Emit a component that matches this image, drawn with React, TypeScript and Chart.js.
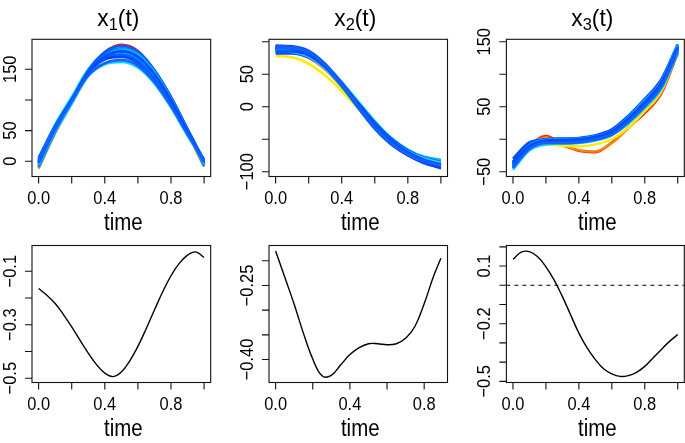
import React, { useEffect, useRef } from "react";
import { Chart, registerables } from "chart.js";
Chart.register(...registerables);

const W = 685;
const H = 443;

// ---------- data ----------
const timeGrid = [0, 0.1, 0.2, 0.3, 0.4, 0.5, 0.6, 0.7, 0.8, 0.9, 1.0];

const curveColors = [
  "#ff1a00", "#ff8000", "#ffee00", "#00e5ff", "#00b2ff", "#0050ff", "#0066ff",
  "#0048ff", "#0040ff", "#00c8ff", "#0033ee", "#00d0ff", "#0047ff", "#33ccff",
  "#0044ff", "#005cff", "#00a8ff", "#0064ff", "#004cff", "#1a5eff",
];

const x1Curves = [
  [-8, 50, 98, 146, 178, 190, 180, 147, 100, 48, -6],
  [-12, 46, 94, 141, 171, 182, 173, 141, 96, 45, -9],
  [-5, 50, 95, 140, 166, 176, 168, 138, 95, 46, -3],
  [4, 60, 105, 150, 176, 184, 174, 144, 102, 52, 2],
  [-2, 54, 100, 146, 172, 180, 171, 141, 99, 49, -1],
  [6, 58, 101, 144, 166, 170, 160, 132, 92, 45, 3],
  [0, 56, 101, 147, 174, 182, 174, 146, 104, 53, 1],
  [-6, 50, 96, 142, 169, 178, 170, 143, 101, 50, -5],
  [3, 57, 100, 143, 167, 172, 164, 136, 95, 47, 2],
  [-10, 47, 94, 141, 169, 180, 172, 144, 101, 49, -8],
  [-3, 53, 98, 143, 168, 175, 166, 139, 97, 47, -2],
  [1, 54, 97, 139, 158, 162, 153, 127, 88, 42, 0],
  [-4, 52, 99, 146, 174, 184, 176, 148, 105, 52, -3],
  [2, 56, 99, 144, 170, 177, 168, 140, 98, 48, 1],
  [-1, 55, 100, 145, 172, 180, 171, 143, 100, 49, 0],
  [-9, 50, 99, 148, 178, 188, 179, 149, 104, 51, -7],
  [-7, 49, 97, 144, 172, 183, 175, 146, 102, 50, -6],
  [2, 56, 101, 145, 170, 174, 164, 135, 94, 46, 1],
  [-2, 53, 99, 144, 171, 179, 170, 142, 100, 49, -1],
  [0, 54, 98, 140, 160, 165, 156, 129, 90, 44, 0],
];

const x2Curves = [
  [88, 87, 80, 62, 33, 0, -32, -56, -72, -82, -88],
  [84, 83, 75, 57, 30, -2, -33, -57, -73, -83, -89],
  [78, 76, 66, 48, 24, -3, -30, -52, -68, -78, -84],
  [90, 89, 82, 64, 38, 8, -22, -48, -66, -78, -84],
  [86, 86, 79, 61, 34, 4, -26, -50, -67, -77, -82],
  [82, 82, 76, 60, 35, 6, -24, -49, -67, -79, -85],
  [92, 91, 84, 65, 36, 3, -30, -55, -72, -84, -91],
  [88, 88, 81, 62, 33, 0, -31, -55, -71, -82, -88],
  [94, 93, 86, 66, 37, 4, -28, -54, -73, -86, -95],
  [85, 84, 77, 59, 32, 1, -29, -53, -69, -80, -86],
  [90, 90, 83, 63, 34, 1, -31, -56, -74, -86, -93],
  [87, 86, 78, 59, 31, -1, -32, -57, -74, -85, -91],
  [91, 90, 82, 62, 33, -1, -33, -58, -75, -87, -94],
  [86, 85, 78, 60, 33, 2, -28, -52, -69, -80, -86],
  [89, 88, 81, 62, 34, 2, -30, -55, -72, -83, -89],
  [93, 92, 85, 65, 35, 1, -32, -57, -74, -85, -90],
  [87, 87, 80, 62, 35, 3, -28, -53, -70, -82, -88],
  [90, 89, 81, 61, 32, -2, -34, -58, -74, -84, -89],
  [85, 85, 79, 61, 35, 4, -27, -52, -70, -82, -89],
  [91, 91, 84, 64, 35, 2, -31, -56, -73, -84, -90],
];

const x3Curves = [
  [-40, -10, 5, -8, -18, -20, -5, 18, 40, 70, 132],
  [-44, -12, 3, -10, -17, -19, -6, 17, 42, 72, 134],
  [-42, -16, -8, -10, -11, -8, 0, 18, 44, 74, 136],
  [-35, -6, 0, 0, 1, 5, 14, 35, 60, 88, 140],
  [-38, -10, -2, -2, -1, 3, 11, 30, 56, 84, 138],
  [-30, -5, -1, -3, -3, 2, 12, 33, 58, 86, 137],
  [-40, -12, -4, -3, -2, 2, 10, 30, 55, 84, 142],
  [-45, -15, -6, -5, -4, 0, 8, 27, 52, 82, 140],
  [-36, -8, 0, 1, 2, 6, 15, 36, 62, 92, 146],
  [-42, -14, -6, -6, -5, -1, 7, 26, 50, 80, 136],
  [-38, -11, -3, -2, 0, 4, 13, 33, 58, 88, 144],
  [-47, -17, -8, -7, -6, -2, 6, 24, 48, 77, 132],
  [-34, -9, -2, -1, 1, 5, 14, 34, 59, 89, 143],
  [-40, -12, -4, -4, -3, 1, 10, 29, 54, 83, 139],
  [-39, -11, -3, -3, -1, 3, 12, 31, 57, 86, 141],
  [-43, -14, -5, -4, -3, 1, 9, 28, 53, 82, 139],
  [-37, -9, -1, 0, 1, 5, 13, 34, 60, 89, 145],
  [-41, -13, -5, -5, -4, 0, 8, 27, 51, 80, 135],
  [-36, -10, -2, -1, 0, 4, 12, 32, 57, 87, 142],
  [-44, -15, -6, -6, -5, -1, 7, 26, 51, 81, 138],
];

const beta1T = [0, 0.05, 0.1, 0.15, 0.2, 0.25, 0.3, 0.35, 0.4, 0.45, 0.5, 0.55, 0.6, 0.65, 0.7, 0.75, 0.8, 0.85, 0.9, 0.95, 1.0];
const beta1V = [-0.165, -0.19, -0.221, -0.262, -0.308, -0.358, -0.406, -0.449, -0.481, -0.494, -0.477, -0.436, -0.381, -0.315, -0.245, -0.177, -0.117, -0.071, -0.04, -0.028, -0.049];

const beta2T = [0, 0.05, 0.1, 0.15, 0.2, 0.25, 0.3, 0.35, 0.4, 0.45, 0.5, 0.55, 0.6, 0.65, 0.7, 0.75, 0.8, 0.85, 0.89];
const beta2V = [-0.18, -0.234, -0.288, -0.347, -0.399, -0.433, -0.432, -0.411, -0.39, -0.376, -0.368, -0.368, -0.37, -0.368, -0.357, -0.333, -0.287, -0.232, -0.195];

const beta3T = [0, 0.05, 0.1, 0.15, 0.2, 0.25, 0.3, 0.35, 0.4, 0.45, 0.5, 0.55, 0.6, 0.65, 0.7, 0.75, 0.8, 0.85, 0.9, 0.95, 1.0];
const beta3V = [0.135, 0.172, 0.175, 0.148, 0.096, 0.027, -0.059, -0.154, -0.249, -0.326, -0.387, -0.434, -0.461, -0.474, -0.47, -0.453, -0.422, -0.378, -0.335, -0.292, -0.257];

const zeroLine = [0, 0];

const xTicksFull = [0, 0.2, 0.4, 0.6, 0.8, 1.0];
const xTicksShort = [0, 0.2, 0.4, 0.6, 0.8];
const xLabelVals = [0, 0.4, 0.8];
const xLabelTexts = ["0.0", "0.4", "0.8"];

const y1Ticks = [0, 50, 100, 150];
const y1LabVals = [0, 50, 150];
const y1LabTxt = ["0", "50", "150"];
const y2Ticks = [-100, -50, 0, 50, 100];
const y2LabVals = [-100, 0, 50];
const y2LabTxt = ["\u2212100", "0", "50"];
const y3Ticks = [-50, 0, 50, 100, 150];
const y3LabVals = [-50, 50, 150];
const y3LabTxt = ["\u221250", "50", "150"];
const y4Ticks = [-0.5, -0.4, -0.3, -0.2, -0.1];
const y4LabVals = [-0.5, -0.3, -0.1];
const y4LabTxt = ["\u22120.5", "\u22120.3", "\u22120.1"];
const y5Ticks = [-0.4, -0.35, -0.3, -0.25, -0.2];
const y5LabVals = [-0.4, -0.25];
const y5LabTxt = ["\u22120.40", "\u22120.25"];
const y6Ticks = [-0.5, -0.4, -0.3, -0.2, -0.1, 0, 0.1, 0.2];
const y6LabVals = [-0.5, -0.2, 0.1];
const y6LabTxt = ["\u22120.5", "\u22120.2", "0.1"];

// ---------- layout ----------
type Panel = {
  box: number[];
  xr: number[];
  yr: number[];
  xTicks: number[];
  yTicks: number[];
  yLabVals: number[];
  yLabTxt: string[];
  titleSub?: string;
  datasets: any[];
};

const FONT = '"Liberation Sans", Arial, Helvetica, sans-serif';

function txt(ctx: CanvasRenderingContext2D, s: string, x: number, y: number, size: number, align: CanvasTextAlign, rot = 0, sx = 0.89) {
  ctx.save();
  ctx.translate(x, y);
  ctx.rotate(rot);
  ctx.scale(sx, 1);
  ctx.font = `${size}px ${FONT}`;
  ctx.textAlign = align;
  ctx.textBaseline = "alphabetic";
  ctx.fillStyle = "#000";
  ctx.fillText(s, 0, 0);
  ctx.restore();
}

function curveSets(curves: number[][]) {
  const n = curves.length;
  return curves.map((c, i) => ({
    data: c.map((v, j) => ({ x: timeGrid[j], y: v })),
    borderColor: curveColors[i % curveColors.length],
    borderWidth: 2.5,
    pointRadius: 0,
    cubicInterpolationMode: "monotone",
    fill: false,
    order: n - i,
  }));
}

function betaSet(t: number[], v: number[]) {
  return {
    data: t.map((tt, j) => ({ x: tt, y: v[j] })),
    borderColor: "#000",
    borderWidth: 1.4,
    pointRadius: 0,
    tension: 0.4,
    fill: false,
  };
}

const panels: Panel[] = [
  { box: [32, 39.3, 210.7, 176.5], xr: [-0.04, 1.04], yr: [-24.8, 198.9], xTicks: xTicksFull, yTicks: y1Ticks, yLabVals: y1LabVals, yLabTxt: y1LabTxt, titleSub: "1", datasets: curveSets(x1Curves) },
  { box: [269, 39.3, 447.5, 176.5], xr: [-0.04, 1.04], yr: [-107.4, 103.7], xTicks: xTicksFull, yTicks: y2Ticks, yLabVals: y2LabVals, yLabTxt: y2LabTxt, titleSub: "2", datasets: curveSets(x2Curves) },
  { box: [506.4, 39.3, 684.3, 176.5], xr: [-0.04, 1.04], yr: [-57.4, 153.7], xTicks: xTicksFull, yTicks: y3Ticks, yLabVals: y3LabVals, yLabTxt: y3LabTxt, titleSub: "3", datasets: curveSets(x3Curves) },
  { box: [32, 245.5, 210.7, 382.5], xr: [-0.04, 1.04], yr: [-0.516, -0.004], xTicks: xTicksFull, yTicks: y4Ticks, yLabVals: y4LabVals, yLabTxt: y4LabTxt, datasets: [betaSet(beta1T, beta1V)] },
  { box: [269, 245.5, 447.5, 382.5], xr: [-0.0356, 0.9256], yr: [-0.4465, -0.169], xTicks: xTicksShort, yTicks: y5Ticks, yLabVals: y5LabVals, yLabTxt: y5LabTxt, datasets: [betaSet(beta2T, beta2V)] },
  {
    box: [506.4, 245.5, 684.3, 382.5], xr: [-0.04, 1.04], yr: [-0.506, 0.207], xTicks: xTicksFull, yTicks: y6Ticks, yLabVals: y6LabVals, yLabTxt: y6LabTxt,
    datasets: [
      betaSet(beta3T, beta3V),
      { data: [{ x: -0.04, y: zeroLine[0] }, { x: 1.04, y: zeroLine[1] }], borderColor: "#000", borderWidth: 1, borderDash: [4, 4], pointRadius: 0, fill: false },
    ],
  },
];

function makePlugin(p: Panel) {
  return {
    id: "rAxes",
    afterDraw(chart: any) {
      const ctx: CanvasRenderingContext2D = chart.ctx;
      const a = chart.chartArea;
      const xs = chart.scales.x;
      const ys = chart.scales.y;
      ctx.save();
      ctx.strokeStyle = "#111";
      ctx.lineWidth = 1.1;
      ctx.strokeRect(a.left, a.top, a.right - a.left, a.bottom - a.top);
      ctx.beginPath();
      for (const v of p.xTicks) {
        const px = xs.getPixelForValue(v);
        ctx.moveTo(px, a.bottom);
        ctx.lineTo(px, a.bottom + 7);
      }
      for (const v of p.yTicks) {
        const py = ys.getPixelForValue(v);
        ctx.moveTo(a.left, py);
        ctx.lineTo(a.left - 7, py);
      }
      ctx.stroke();
      xLabelVals.forEach((v, i) => {
        txt(ctx, xLabelTexts[i], xs.getPixelForValue(v), a.bottom + 27.5, 18.5, "center");
      });
      p.yLabVals.forEach((v, i) => {
        txt(ctx, p.yLabTxt[i], a.left - 16, ys.getPixelForValue(v), 18.5, "center", -Math.PI / 2);
      });
      const cx = (a.left + a.right) / 2;
      txt(ctx, "time", cx + 2, a.bottom + 53.5, 23, "center");
      if (p.titleSub) {
        const size = 24;
        const sx = 0.95;
        ctx.font = `${size}px ${FONT}`;
        const wx = ctx.measureText("x").width * sx;
        const wp = ctx.measureText("(t)").width * sx;
        ctx.font = `${size * 0.72}px ${FONT}`;
        const ws = ctx.measureText(p.titleSub).width * sx;
        const total = wx + ws + wp;
        let x0 = cx - 3 - total / 2;
        const base = 25.5;
        txt(ctx, "x", x0, base, size, "left", 0, sx);
        x0 += wx;
        txt(ctx, p.titleSub, x0, base + 4, size * 0.72, "left", 0, sx);
        x0 += ws;
        txt(ctx, "(t)", x0, base, size, "left", 0, sx);
      }
      ctx.restore();
    },
  };
}

function PanelChart({ p }: { p: Panel }) {
  const ref = useRef<HTMLCanvasElement | null>(null);
  useEffect(() => {
    if (!ref.current) return;
    const [l, t, r, b] = p.box;
    const chart = new Chart(ref.current, {
      type: "line",
      data: { datasets: p.datasets },
      options: {
        responsive: false,
        animation: false,
        events: [],
        layout: { padding: { left: l, top: t, right: W - r, bottom: H - b } },
        scales: {
          x: { type: "linear", min: p.xr[0], max: p.xr[1], display: false },
          y: { type: "linear", min: p.yr[0], max: p.yr[1], display: false },
        },
        plugins: { legend: { display: false }, tooltip: { enabled: false } },
      } as any,
      plugins: [makePlugin(p) as any],
    });
    return () => chart.destroy();
  }, [p]);
  return <canvas ref={ref} width={W} height={H} style={{ position: "absolute", left: 0, top: 0 }} />;
}

export default function App() {
  return (
    <div style={{ position: "absolute", left: 0, top: 0, width: W, height: H, background: "#fff", overflow: "hidden" }}>
      {panels.map((p, i) => (
        <PanelChart key={i} p={p} />
      ))}
    </div>
  );
}
